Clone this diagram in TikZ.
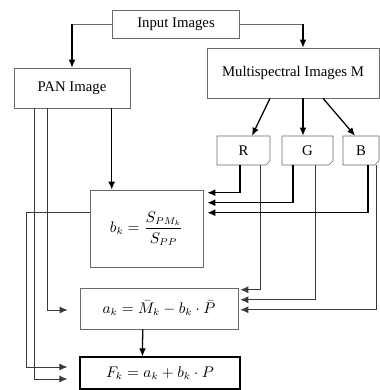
\documentclass[tikz,border=0pt]{standalone}
\usepackage{fontspec}
\setmainfont{Liberation Serif}
\usetikzlibrary{arrows.meta, calc, shapes.misc}
\definecolor{boxline}{HTML}{6A6A6A}
\definecolor{wire}{HTML}{3A3A3A}
\newcommand{\pxu}{0.025cm}
\tikzset{
  flow box/.style={
    draw=boxline,
    thin,
    fill=white,
    align=center,
    font=\fontsize{10.5}{12}\selectfont,
    inner sep=2pt
  },
  band box/.style={
    flow box,
    chamfered rectangle,
    chamfered rectangle corners=south east,
    chamfered rectangle sep=1.5pt
  },
  feed/.style={
    -{Latex[length=2mm, width=1.7mm]},
    line width=0.9pt,
    color=black
  },
  side feed/.style={
    -{Latex[length=2mm, width=1.7mm]},
    line width=0.6pt,
    color=wire
  },
  thin wire/.style={
    line width=0.5pt,
    color=boxline
  }
}

\begin{document}
\begin{tikzpicture}[x=\pxu, y=-\pxu]
  \useasboundingbox (0,0) rectangle (380,390);

  % boxes
  \node[flow box, minimum width=127*\pxu, minimum height=28*\pxu] (in) at (176,24) {Input Images};
  \node[flow box, minimum width=116*\pxu, minimum height=40*\pxu] (pan) at (72,88) {PAN Image};
  \node[flow box, minimum width=172*\pxu, minimum height=50*\pxu] (ms) at (293,73) {Multispectral Images M};
  \node[band box, minimum width=53*\pxu, minimum height=29*\pxu] (R) at (243.5,150.5) {R};
  \node[band box, minimum width=51*\pxu, minimum height=29*\pxu] (G) at (307.5,150.5) {G};
  \node[band box, minimum width=36*\pxu, minimum height=29*\pxu] (B) at (361,150.5) {B};
  \node[flow box, minimum width=113*\pxu, minimum height=77*\pxu] (bk) at (146.5,228.5) {$b_k = \displaystyle\frac{S_{PM_k}}{S_{PP}}$};
  \node[flow box, minimum width=158*\pxu, minimum height=41*\pxu] (ak) at (159,308.5) {$a_k = \bar{M}_k - b_k \cdot \bar{P}$};
  \node[flow box, draw=black, line width=0.8pt, minimum width=160*\pxu, minimum height=32*\pxu] (fk) at (160,373) {$F_k = a_k + b_k \cdot P$};

  % input split
  \coordinate (msTop) at ($(ms.north)+(10,0)$);
  \coordinate (panTurn) at (pan.north |- in.west);
  \coordinate (msTurn) at (msTop |- in.east);
  \draw[thin wire] (in.west) -- (panTurn);
  \draw[thin wire] (in.east) -- (msTurn);
  \draw[feed] (panTurn) -- (pan.north);
  \draw[feed] (msTurn) -- (msTop);

  % bands
  \draw[feed] ($(ms.south)+(-23,0)$) -- ($(R.north)+(8.5,0)$);
  \draw[feed] ($(ms.south)+(10,0)$) -- ($(G.north)+(-4.5,0)$);
  \draw[feed] ($(ms.south)+(30,0)$) -- ($(B.north)+(-6,0)$);

  % bands to b_k
  \draw[feed, shorten >=4*\pxu] ($(R.south)+(-3.5,0)$) |- ($(bk.north east)+(0,3)$);
  \draw[feed, shorten >=4*\pxu] ($(G.south)+(-14.5,0)$) |- ($(bk.north east)+(0,13)$);
  \draw[feed, shorten >=4*\pxu] ($(B.south)+(7,0)$) |- ($(bk.north east)+(0,23)$);

  % bands to a_k
  \draw[side feed, shorten >=2*\pxu] ($(R.south)+(16.5,0)$) |- ($(ak.north east)+(0,2)$);
  \draw[side feed, shorten >=2*\pxu] ($(G.south)+(7.5,0)$) |- ($(ak.north east)+(0,12)$);
  \draw[side feed, shorten >=2*\pxu] ($(B.south)+(15,0)$) |- ($(ak.north east)+(0,22)$);

  % PAN branches
  \draw[feed] ($(pan.south west)+(98,0)$) -- ($(bk.north west)+(22,0)$);
  \draw[side feed, shorten >=12*\pxu] ($(pan.south west)+(34,0)$) |- ($(ak.west)+(0,1.5)$);
  \draw[side feed, shorten >=12*\pxu] ($(pan.south west)+(21,0)$) |- ($(fk.west)+(0,6)$);

  % b_k and a_k to F_k
  \draw[side feed, shorten >=12*\pxu] ($(bk.north west)+(0,23)$) -- ++(-63,0) |- ($(fk.west)+(0,-6)$);
  \draw[feed] ($(ak.south west)+(63,0)$) -- ($(fk.north west)+(63,0)$);
\end{tikzpicture}
\end{document}
